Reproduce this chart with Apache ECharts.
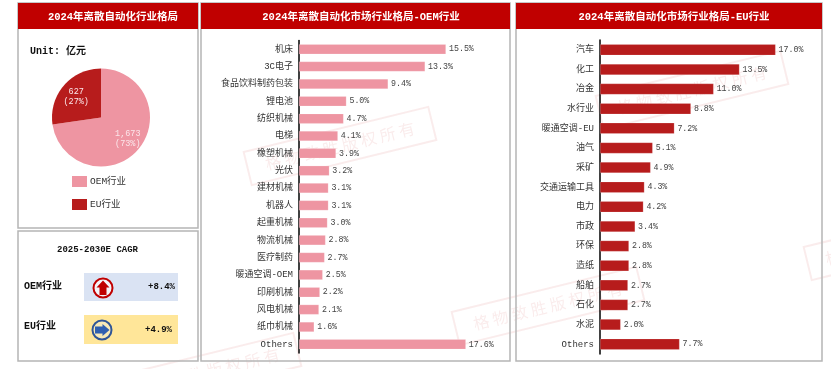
<!DOCTYPE html>
<html><head><meta charset="utf-8">
<style>html,body{margin:0;padding:0;background:#fff}#c{width:831px;height:369px}</style>
<script src="https://cdn.jsdelivr.net/npm/echarts@6/dist/echarts.min.js"></script>
</head><body><div id="c"></div>
<script>
const FONT = '"Liberation Mono","Noto Sans CJK SC",monospace';
const PINK = '#ee95a2', DARK = '#b71c1c', RED = '#c00000';

const pieNames = ['OEM行业', 'EU行业'];
const pieValues = [1673, 627];
const piePct = ['73%', '27%'];
const pieText = ['1,673', '627'];

const oemCats = ['机床','3C电子','食品饮料制药包装','锂电池','纺织机械','电梯','橡塑机械','光伏','建材机械','机器人','起重机械','物流机械','医疗制药','暖通空调-OEM','印刷机械','风电机械','纸巾机械','Others'];
const oemVals = [15.5,13.3,9.4,5.0,4.7,4.1,3.9,3.2,3.1,3.1,3.0,2.8,2.7,2.5,2.2,2.1,1.6,17.6];

const euCats = ['汽车','化工','冶金','水行业','暖通空调-EU','油气','采矿','交通运输工具','电力','市政','环保','造纸','船舶','石化','水泥','Others'];
const euVals = [17.0,13.5,11.0,8.8,7.2,5.1,4.9,4.3,4.2,3.4,2.8,2.8,2.7,2.7,2.0,7.7];

const cagrNames = ['OEM行业', 'EU行业'];
const cagrVals = ['+8.4%', '+4.9%'];

const panels = [[18,3,180,225],[18,231,180,130],[201,3,309,358],[516,3,306,358]];
const heads = [[18,3,180,26],[201,3,309,26],[516,3,306,26]];

const g = [];
const WM = 'rgba(200,40,40,0.085)';
const wm = (x, y) => g.push({type:'group', x, y, rotation:0.24, silent:true, z:0, children:[
  {type:'rect', shape:{x:-95,y:-17,width:190,height:34}, style:{fill:'none', stroke:WM, lineWidth:2}},
  {type:'text', style:{text:'格 物 致 胜 版 权 所 有', x:0, y:0, align:'center', verticalAlign:'middle', font:'16px "Noto Sans CJK SC"', fill:WM}}
]});
wm(340,146); wm(548,306); wm(692,90); wm(900,241); wm(205,372);

panels.forEach(p => g.push({type:'rect', shape:{x:p[0],y:p[1],width:p[2],height:p[3]}, style:{fill:'none', stroke:'#b5b5b5', lineWidth:1.5}, z:1}));
heads.forEach(p => g.push({type:'rect', shape:{x:p[0],y:p[1],width:p[2],height:p[3]}, style:{fill:RED}, z:2}));

const txt = (text,x,y,size,bold,align) => g.push({type:'text', z:5, style:{text, x, y, align:align||'left', verticalAlign:'middle', fill:'#111', font:(bold?'bold ':'')+size+'px '+FONT}});
txt('Unit: 亿元', 30, 51, 10, true);
txt('2025-2030E CAGR', 97.5, 250, 9, true, 'center');
txt(cagrNames[0], 24, 286, 10, true);
txt(cagrNames[1], 24, 326, 10, true);
g.push({type:'rect', z:3, shape:{x:84,y:273,width:94,height:28}, style:{fill:'#dae3f3'}});
g.push({type:'rect', z:3, shape:{x:84,y:315,width:94,height:29}, style:{fill:'#ffe699'}});
txt(cagrVals[0], 175, 287, 9, true, 'right');
txt(cagrVals[1], 172, 329.5, 9, true, 'right');
g.push({type:'circle', z:4, shape:{cx:103,cy:288,r:9.5}, style:{fill:'#f4f4f8', stroke:'#c00000', lineWidth:2}});
g.push({type:'polygon', z:5, shape:{points:[[103,280.5],[109.5,287.5],[106.5,287.5],[106.5,295],[99.5,295],[99.5,287.5],[96.5,287.5]]}, style:{fill:'#c00000'}});
g.push({type:'circle', z:4, shape:{cx:102,cy:330,r:9.5}, style:{fill:'#f7e9b8', stroke:'#2f5597', lineWidth:2}});
g.push({type:'polygon', z:5, shape:{points:[[109.5,330],[102.5,324],[102.5,326.5],[95,326.5],[95,333.5],[102.5,333.5],[102.5,336]]}, style:{fill:'#2f5fb0'}});

const title = (text,cx) => ({text, left:cx, top:7, textAlign:'center', textStyle:{color:'#fff', fontSize:10.5, fontWeight:'bold', fontFamily:FONT}});

const catAxis = (i,data) => ({type:'category', gridIndex:i, data, inverse:true,
  axisLine:{lineStyle:{color:'#000', width:1.5}}, axisTick:{show:false},
  axisLabel:{interval:0, margin:6, color:'#333', fontSize:9, fontFamily:FONT}});
const valAxis = i => ({type:'value', gridIndex:i, min:0, max:20, show:false, splitLine:{show:false}});
const barSeries = (i,data,color,w) => ({type:'bar', xAxisIndex:i, yAxisIndex:i, data, barWidth:w, z:3,
  itemStyle:{color, borderColor:'rgba(255,255,255,0.35)', borderWidth:0.5},
  label:{show:true, position:'right', distance:3, color:'#444', fontSize:8.3, fontFamily:FONT,
    formatter:p => p.value.toFixed(1)+'%'}});

const chart = echarts.init(document.getElementById('c'), null, {renderer:'canvas'});
chart.setOption({
  animation:false,
  backgroundColor:'#fff',
  title:[title('2024年离散自动化行业格局',108), title('2024年离散自动化市场行业格局-OEM行业',356), title('2024年离散自动化市场行业格局-EU行业',669)],
  legend:{orient:'vertical', left:67, top:171, itemWidth:15, itemHeight:11, itemGap:12, icon:'rect', data:pieNames,
    textStyle:{color:'#333', fontSize:9.5, fontFamily:FONT, padding:[0,0,0,-2]}},
  grid:[{left:299, top:40.5, width:189.6, height:312.5},{left:600, top:40, width:206.6, height:314}],
  xAxis:[valAxis(0),valAxis(1)],
  yAxis:[catAxis(0,oemCats),catAxis(1,euCats)],
  series:[
    {type:'pie', center:[101,117.5], radius:49, startAngle:90, clockwise:true, z:3,
     data:pieNames.map((name,i)=>({name, value:pieValues[i], itemStyle:{color:[PINK,DARK][i]}})),
     label:{show:true, position:'inside', color:'#fbe6ea', fontSize:8.5, lineHeight:10, fontFamily:FONT,
       formatter:p=>pieText[p.dataIndex]+'\n('+piePct[p.dataIndex]+')'},
     labelLayout:p=>p.dataIndex===0?{dx:6,dy:3}:{dx:-4,dy:-3},
     labelLine:{show:false}, emphasis:{disabled:true}},
    barSeries(0,oemVals,PINK,10),
    barSeries(1,euVals,DARK,11)
  ],
  graphic:g
});
</script></body></html>
